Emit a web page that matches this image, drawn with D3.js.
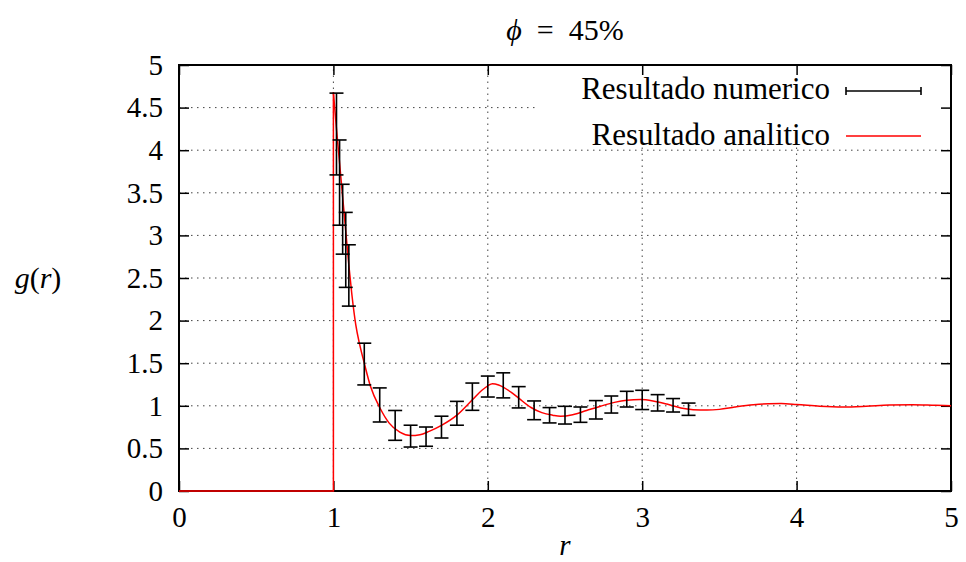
<!DOCTYPE html>
<html>
<head>
<meta charset="utf-8">
<script src="https://cdn.jsdelivr.net/npm/d3@7/dist/d3.min.js"></script>
<style>
  body { margin: 0; background: #fff; }
  text { font-family: "Liberation Serif", "Times New Roman", serif; fill: #000; }
</style>
</head>
<body>
<svg width="966" height="562"></svg>
<script>
// numeric result: bin centres, g(r) and error
var numR = [1.02, 1.04, 1.06, 1.08, 1.10, 1.2, 1.3, 1.4, 1.5, 1.6, 1.7, 1.8, 1.9, 2.0,
            2.1, 2.2, 2.3, 2.4, 2.5, 2.6, 2.7, 2.8, 2.9, 3.0, 3.1, 3.2, 3.3];
var numG = [4.19, 3.62, 3.19, 2.83, 2.53, 1.49, 1.01, 0.77, 0.644, 0.638, 0.75, 0.912, 1.107, 1.226,
            1.24, 1.10, 0.947, 0.889, 0.89, 0.896, 0.953, 1.015, 1.078, 1.069, 1.035, 1.006, 0.96];
var numErr = [0.48, 0.50, 0.41, 0.44, 0.36, 0.245, 0.20, 0.175, 0.128, 0.113, 0.128, 0.14, 0.16, 0.123,
              0.147, 0.125, 0.11, 0.09, 0.104, 0.09, 0.108, 0.10, 0.092, 0.113, 0.096, 0.079, 0.072];

// analytic result
var anaR = [1.0, 1.02, 1.04, 1.06, 1.08, 1.10, 1.12, 1.145, 1.17, 1.2, 1.24, 1.3, 1.36, 1.43, 1.5,
            1.56, 1.62, 1.7, 1.8, 1.9, 1.96, 2.0, 2.03, 2.07, 2.1, 2.15, 2.2, 2.28, 2.35, 2.42, 2.47,
            2.55, 2.64, 2.73, 2.82, 2.9, 2.99, 3.07, 3.16, 3.25, 3.33, 3.42, 3.5, 3.6, 3.72, 3.82,
            3.9, 4.0, 4.15, 4.3, 4.45, 4.6, 4.75, 4.9, 5.0];
var anaG = [4.68, 4.25, 3.85, 3.45, 3.05, 2.65, 2.3, 1.95, 1.72, 1.5, 1.23, 0.98, 0.8, 0.69, 0.65,
            0.66, 0.70, 0.77, 0.89, 1.07, 1.18, 1.235, 1.26, 1.245, 1.22, 1.16, 1.09, 0.98, 0.92, 0.89, 0.877,
            0.895, 0.945, 0.995, 1.04, 1.065, 1.073, 1.057, 1.02, 0.975, 0.955, 0.95, 0.958, 0.985, 1.012, 1.024,
            1.026, 1.016, 0.995, 0.986, 0.995, 1.01, 1.013, 1.006, 1.002];
// below contact g(r) = 0
var coreR = [0, 1.0, 1.0];
var coreG = [0, 0, 4.68];

var xTicks = [0, 1, 2, 3, 4, 5];
var yTicks = [0, 0.5, 1, 1.5, 2, 2.5, 3, 3.5, 4, 4.5, 5];
var yTickLabels = ["0", "0.5", "1", "1.5", "2", "2.5", "3", "3.5", "4", "4.5", "5"];

var svg = d3.select("svg"),
    width = +svg.attr("width"),
    height = +svg.attr("height");

var margin = { top: 65, right: 15, bottom: 71, left: 179 };

var x = d3.scaleLinear().domain([0, 5]).range([margin.left, width - margin.right]);
var y = d3.scaleLinear().domain([0, 5]).range([height - margin.bottom, margin.top]);

// grid
var grid = svg.append("g")
    .attr("stroke", "#444")
    .attr("stroke-width", 1)
    .attr("stroke-dasharray", "1.5,4.5");
grid.selectAll(".gx")
    .data(xTicks.slice(1, -1))
    .enter().append("line")
    .attr("x1", d => x(d)).attr("x2", d => x(d))
    .attr("y1", y(0)).attr("y2", y(5));
grid.selectAll(".gy")
    .data(yTicks.slice(1, -1))
    .enter().append("line")
    .attr("x1", x(0)).attr("x2", x(5))
    .attr("y1", d => y(d)).attr("y2", d => y(d));

// key box hides the grid
svg.append("rect")
    .attr("x", 535).attr("y", y(5))
    .attr("width", x(5) - 535).attr("height", 82)
    .attr("fill", "#fff");

// axes, ticks drawn inside on all four sides
var fontSize = 29;
svg.append("g")
    .attr("transform", "translate(" + x(0) + ",0)")
    .call(d3.axisLeft(y).tickValues(yTicks).tickFormat((d, i) => yTickLabels[i]).tickSize(-10).tickPadding(16));
svg.append("g")
    .attr("transform", "translate(0," + y(0) + ")")
    .call(d3.axisBottom(x).tickValues(xTicks).tickFormat(d => d).tickSize(-10).tickPadding(15));
svg.append("g")
    .attr("transform", "translate(" + x(5) + ",0)")
    .call(d3.axisRight(y).tickValues(yTicks).tickFormat("").tickSize(-10));
svg.append("g")
    .attr("transform", "translate(0," + y(5) + ")")
    .call(d3.axisTop(x).tickValues(xTicks).tickFormat("").tickSize(-10));

svg.selectAll(".domain").remove();
svg.selectAll(".tick line").attr("stroke", "#000").attr("stroke-width", 1.5);
svg.selectAll(".tick text")
    .style("font-family", "'Liberation Serif', serif")
    .attr("font-size", fontSize);

// border
svg.append("rect")
    .attr("x", x(0)).attr("y", y(5))
    .attr("width", x(5) - x(0)).attr("height", y(0) - y(5))
    .attr("fill", "none")
    .attr("stroke", "#000")
    .attr("stroke-width", 2);

// analytic curve
var line = d3.line()
    .x(d => x(d[0]))
    .y(d => y(d[1]));
svg.append("path")
    .datum(coreR.map((r, i) => [r, coreG[i]]))
    .attr("d", line)
    .attr("fill", "none")
    .attr("stroke", "#f00")
    .attr("stroke-width", 1.5);
svg.append("path")
    .datum(anaR.map((r, i) => [r, anaG[i]]))
    .attr("d", line.curve(d3.curveMonotoneX))
    .attr("fill", "none")
    .attr("stroke", "#f00")
    .attr("stroke-width", 1.5);

// error bars
var cap = 7;
var bars = svg.append("g")
    .attr("stroke", "#000")
    .attr("stroke-width", 1.6)
    .selectAll("g")
    .data(numR.map((r, i) => ({ r: r, g: numG[i], e: numErr[i] })))
    .enter().append("g");
bars.append("line")
    .attr("x1", d => x(d.r)).attr("x2", d => x(d.r))
    .attr("y1", d => y(d.g - d.e)).attr("y2", d => y(d.g + d.e));
bars.append("line")
    .attr("x1", d => x(d.r) - cap).attr("x2", d => x(d.r) + cap)
    .attr("y1", d => y(d.g + d.e)).attr("y2", d => y(d.g + d.e));
bars.append("line")
    .attr("x1", d => x(d.r) - cap).attr("x2", d => x(d.r) + cap)
    .attr("y1", d => y(d.g - d.e)).attr("y2", d => y(d.g - d.e));

// key
var key = svg.append("g").attr("font-size", 31).attr("text-anchor", "end");
key.append("text").attr("x", 830).attr("y", 99).text("Resultado numerico");
key.append("text").attr("x", 830).attr("y", 145).text("Resultado analitico");
var ks = svg.append("g").attr("stroke-width", 1.6);
ks.append("line").attr("x1", 846).attr("x2", 921).attr("y1", 91).attr("y2", 91).attr("stroke", "#000");
ks.append("line").attr("x1", 846).attr("x2", 846).attr("y1", 87).attr("y2", 95).attr("stroke", "#000");
ks.append("line").attr("x1", 921).attr("x2", 921).attr("y1", 87).attr("y2", 95).attr("stroke", "#000");
ks.append("line").attr("x1", 846).attr("x2", 921).attr("y1", 136).attr("y2", 136).attr("stroke", "#f00");

// titles
var title = svg.append("text")
    .attr("x", (x(0) + x(5)) / 2).attr("y", 40)
    .attr("text-anchor", "middle")
    .attr("font-size", 30)
    .attr("xml:space", "preserve");
title.append("tspan").attr("font-style", "italic").text("ϕ");
title.append("tspan").text("  =  45%");

var ylab = svg.append("text")
    .attr("x", 38).attr("y", 288)
    .attr("text-anchor", "middle")
    .attr("font-size", 30);
ylab.append("tspan").attr("font-style", "italic").text("g");
ylab.append("tspan").text("(");
ylab.append("tspan").attr("font-style", "italic").text("r");
ylab.append("tspan").text(")");

svg.append("text")
    .attr("x", (x(0) + x(5)) / 2).attr("y", 555)
    .attr("text-anchor", "middle")
    .attr("font-size", fontSize)
    .attr("font-style", "italic")
    .text("r");
</script>
</body>
</html>
